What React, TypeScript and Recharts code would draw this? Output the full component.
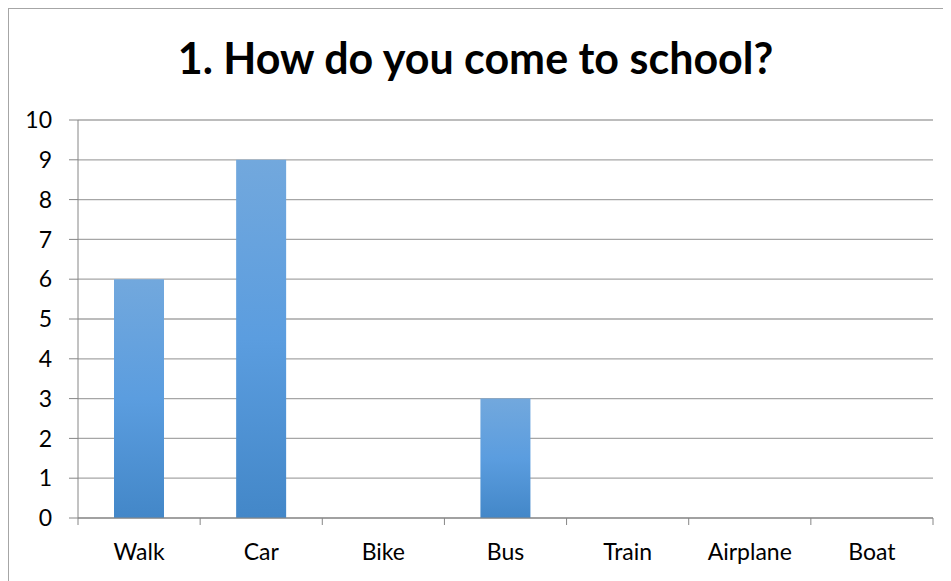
import React from 'react';
import { BarChart, Bar, XAxis, YAxis, CartesianGrid } from 'recharts';

const modes = ['Walk', 'Car', 'Bike', 'Bus', 'Train', 'Airplane', 'Boat'];
const counts = [6, 9, 0, 3, 0, 0, 0];
const yTicks = [0, 1, 2, 3, 4, 5, 6, 7, 8, 9, 10];

const data = modes.map((mode, i) => ({ mode, count: counts[i] }));

const FONT = 'Lato, "Noto Sans", sans-serif';
const AXIS = '#868686';

const CategoryTick = (props: any) => {
  const { x, y, payload, index, visibleTicksCount, width } = props;
  const band = Number(width) / visibleTicksCount;
  const left = x - band / 2;
  return (
    <g>
      <line x1={left} x2={left} y1={y} y2={y + 7} stroke={AXIS} strokeWidth={1} />
      {index === visibleTicksCount - 1 && (
        <line x1={x + band / 2} x2={x + band / 2} y1={y} y2={y + 7} stroke={AXIS} strokeWidth={1} />
      )}
      <text x={x} y={y + 42} textAnchor="middle" fill="#000" fontSize={23} fontFamily={FONT}>
        {payload.value}
      </text>
    </g>
  );
};

export default function App() {
  return (
    <div
      style={{
        position: 'relative',
        width: 943,
        height: 573,
        borderLeft: '1px solid #a6a6a6',
        borderTop: '1px solid #a6a6a6',
        fontFamily: FONT,
      }}
    >
      <div
        style={{
          position: 'absolute',
          left: 0,
          top: 25,
          width: 933,
          textAlign: 'center',
          fontSize: 43,
          lineHeight: '48px',
          fontWeight: 700,
          color: '#000',
        }}
      >
        1. How do you come to school?
      </div>
      <BarChart
        width={942}
        height={572}
        data={data}
        margin={{ top: 111, right: 18, left: 0, bottom: 18 }}
      >
        <defs>
          <linearGradient id="barFill" x1="0" y1="0" x2="0" y2="1">
            <stop offset="0%" stopColor="#72a8dd" />
            <stop offset="50%" stopColor="#5b9ddf" />
            <stop offset="100%" stopColor="#4387c8" />
          </linearGradient>
        </defs>
        <CartesianGrid vertical={false} stroke="#a6a6a6" strokeWidth={1.3} />
        <XAxis
          dataKey="mode"
          height={45}
          axisLine={{ stroke: AXIS }}
          tickLine={false}
          tickSize={0}
          tickMargin={0}
          interval={0}
          tick={<CategoryTick />}
        />
        <YAxis
          width={69}
          domain={[0, 10]}
          ticks={yTicks}
          interval={0}
          tickSize={9}
          tickMargin={17}
          axisLine={{ stroke: AXIS }}
          tickLine={{ stroke: AXIS }}
          tick={{ fill: '#000', fontSize: 23, fontFamily: FONT }}
        />
        <Bar dataKey="count" fill="url(#barFill)" barSize={50} isAnimationActive={false} />
      </BarChart>
    </div>
  );
}
